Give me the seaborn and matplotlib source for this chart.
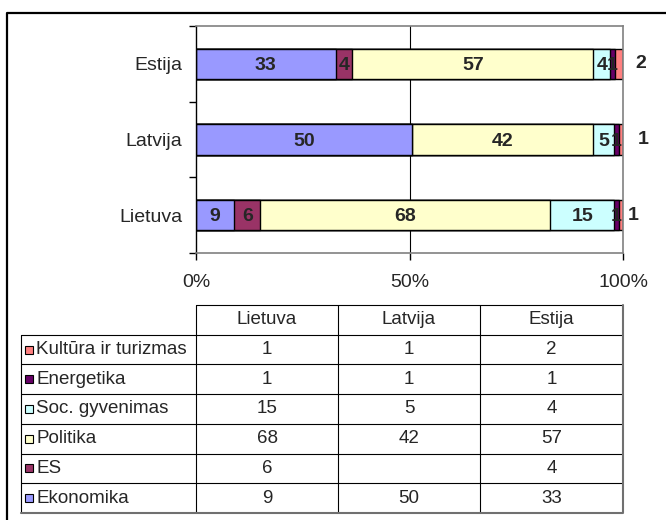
import numpy as np
import pandas as pd
import seaborn as sns
import matplotlib.pyplot as plt

# data (pieces of news per topic)
countries = ['Estija', 'Latvija', 'Lietuva']
series = ['Ekonomika', 'ES', 'Politika', 'Soc. gyvenimas', 'Energetika', 'Kultūra ir turizmas']
colors = ['#9999FF', '#993366', '#FFFFCC', '#CCFFFF', '#660066', '#FF8080']

estija = [33, 4, 57, 4, 1, 2]
latvija = [50, 0, 42, 5, 1, 1]
lietuva = [9, 6, 68, 15, 1, 1]

table_cols = ['Lietuva', 'Latvija', 'Estija']
x_ticks = [0, 50, 100]
x_ticklabels = ['0%', '50%', '100%']

sns.set_theme(style='white', font='Liberation Sans')
plt.rcParams['font.family'] = ['Liberation Sans', 'DejaVu Sans']

df = pd.DataFrame([estija, latvija, lietuva], index=countries, columns=series)
pct = df.div(df.sum(axis=1), axis=0) * 100
cum = pct.cumsum(axis=1)

W, H = 666, 520
fig = plt.figure(figsize=(W / 100, H / 100), dpi=100)
ax = fig.add_axes([196 / W, (H - 253) / H, 427 / W, 227 / H])

# stacked bars: draw cumulative totals, widest first
for s, c in reversed(list(zip(series, colors))):
    sns.barplot(x=cum[s].values, y=countries, color=c, orient='h', width=0.4,
                edgecolor='black', linewidth=1, saturation=1, ax=ax, zorder=2)

ax.axvline(50, color='black', lw=0.8, zorder=1)

# value labels
out_offset = {'Estija': 4.2, 'Latvija': 4.7, 'Lietuva': 2.4}
for i, country in enumerate(countries):
    left = 0
    for j, s in enumerate(series[:-1]):
        v = df.loc[country, s]
        w = pct.loc[country, s]
        if v:
            ax.text(left + w / 2, i + 0.02, str(v), ha='center', va='center',
                    fontsize=14, fontweight='bold', zorder=3)
        left += w
    ax.text(100 + out_offset[country], i, str(df.loc[country, series[-1]]),
            ha='center', va='center', fontsize=14, fontweight='bold', clip_on=False)

ax.set_xlim(0, 100)
ax.set_ylim(2.5, -0.5)
ax.set_xticks(x_ticks)
ax.set_xticklabels(x_ticklabels)
ax.set_yticks([-0.5, 0.5, 1.5, 2.5], minor=True)
ax.set_xlabel('')
ax.set_ylabel('')
ax.tick_params(axis='y', which='major', length=0, pad=10, labelsize=14, left=True)
ax.tick_params(axis='y', which='minor', length=5, width=1, color='black', left=True, direction='out')
ax.tick_params(axis='x', length=5, width=1, color='black', pad=10, labelsize=14,
               bottom=True, direction='out')
ax.spines['left'].set_color('black')
ax.spines['left'].set_linewidth(1)
for side in ['top', 'right', 'bottom']:
    ax.spines[side].set_color('#808080')
    ax.spines[side].set_linewidth(1.2)

# overlay for frame and data table
ov = fig.add_axes([0, 0, 1, 1], zorder=-1)
ov.set_xlim(0, W)
ov.set_ylim(H, 0)
ov.axis('off')
ov.plot([7, 7, W], [H, 13, 13], color='black', lw=1.6)

col_edges = [21, 196, 338, 480, 623]
row_h = 29.7
top = 305
rows = series[::-1]
n = len(rows)
bottom = top + row_h * (n + 1)
# header
ov.plot([196, 623], [top, top], color='black', lw=0.8)
for k in range(1, n + 1):
    ov.plot([21, 623], [top + row_h * k, top + row_h * k], color='black', lw=0.8)
ov.plot([21, 21], [top + row_h, bottom], color='black', lw=0.8)
for x in col_edges[1:-1]:
    ov.plot([x, x], [top, bottom], color='black', lw=0.8)
ov.plot([21, 623, 623], [bottom, bottom, top], color='#707070', lw=1.5)

for c, name in enumerate(table_cols):
    xc = (col_edges[c + 1] + col_edges[c + 2]) / 2
    ov.text(xc, top + row_h / 2, name, ha='center', va='center', fontsize=13.5)

data_by_country = {'Estija': estija, 'Latvija': latvija, 'Lietuva': lietuva}
for r, s in enumerate(rows):
    yc = top + row_h * (r + 1.5)
    color = colors[series.index(s)]
    ov.add_patch(plt.Rectangle((25, yc - 4), 8, 8, facecolor=color, edgecolor='black', lw=0.8))
    ov.text(36, yc, s, ha='left', va='center', fontsize=13.5)
    for c, name in enumerate(table_cols):
        v = data_by_country[name][series.index(s)]
        xc = (col_edges[c + 1] + col_edges[c + 2]) / 2
        ov.text(xc, yc, str(v) if v else '', ha='center', va='center', fontsize=13.5)

fig.savefig('out.png', dpi=100)
